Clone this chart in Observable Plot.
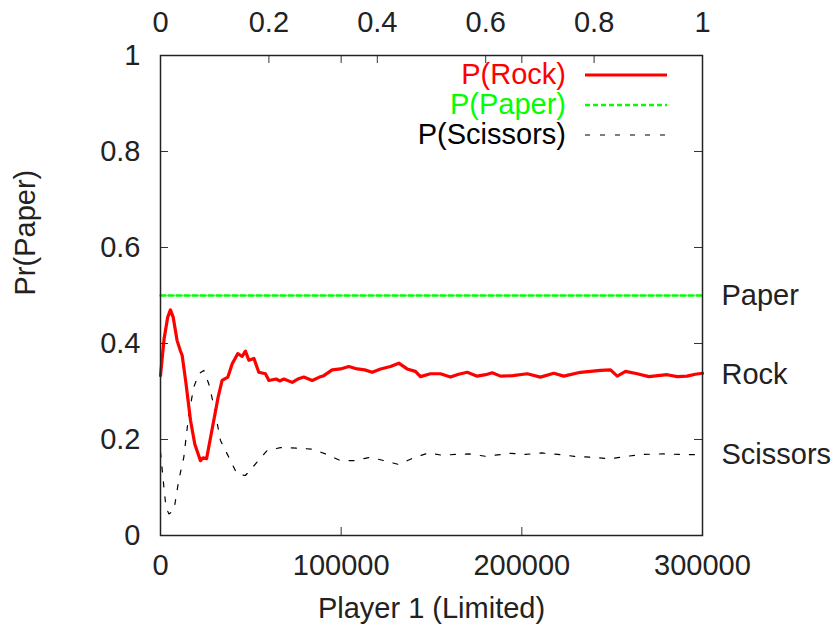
<!DOCTYPE html>
<html><head><meta charset="utf-8">
<script src="https://cdn.jsdelivr.net/npm/d3@7"></script>
<script src="https://cdn.jsdelivr.net/npm/@observablehq/plot@0.6"></script>
<style>body{margin:0;background:#fff}</style>
</head><body><div id="chart"></div>
<script>
// ---- data ----
const rockX = [0,2000,4000,5500,7000,9200,11000,12000,14000,16600,19000,22100,23500,25500,27500,29500,32000,34100,37300,39700,42800,45200,47000,48900,51700,54400,58100,60000,64000,66000,68300,72900,76000,79300,84000,88000,90400,95000,99600,104200,108900,113000,117200,121800,127300,131900,136500,141100,143900,149400,155000,160500,165000,169800,175300,180000,183600,188200,195000,203000,210300,217700,223200,232500,243500,249100,252800,257400,263900,270300,280400,286000,291500,296000,300000];
const rockY = [0.333,0.41,0.455,0.470,0.455,0.406,0.385,0.375,0.32,0.240,0.19,0.156,0.162,0.160,0.20,0.240,0.29,0.323,0.33,0.358,0.379,0.373,0.384,0.365,0.369,0.340,0.337,0.323,0.326,0.322,0.326,0.319,0.326,0.330,0.323,0.330,0.333,0.345,0.347,0.352,0.347,0.345,0.340,0.347,0.352,0.359,0.347,0.342,0.331,0.337,0.337,0.330,0.336,0.340,0.332,0.335,0.339,0.332,0.333,0.337,0.330,0.338,0.332,0.340,0.344,0.345,0.332,0.342,0.337,0.331,0.335,0.331,0.332,0.336,0.338];
const paperX = [0,300000];
const paperY = [0.5,0.5];
const scissorsX = [0,1500,3000,4600,7400,10100,12900,15700,18400,21200,24000,26700,29500,33200,37800,42400,47000,53500,59000,66400,75600,84000,91300,99600,107000,116200,123600,131900,140200,148500,156000,163000,171000,180000,193700,202000,211000,220000,229000,238000,249100,258000,268000,278000,287000,300000];
const scissorsY = [0.174,0.115,0.06,0.045,0.052,0.115,0.163,0.253,0.309,0.337,0.344,0.316,0.271,0.198,0.163,0.128,0.125,0.153,0.177,0.183,0.182,0.180,0.170,0.156,0.156,0.163,0.156,0.148,0.162,0.172,0.167,0.169,0.170,0.165,0.171,0.169,0.172,0.169,0.165,0.163,0.160,0.165,0.169,0.170,0.169,0.168];

const xTicks = [0,100000,200000,300000];
const x2Ticks = [0,0.2,0.4,0.6,0.8,1];
const yTicks = [0,0.2,0.4,0.6,0.8,1];
const sideLabels = ["Paper","Rock","Scissors"];
const sideValues = [0.5,0.335,0.169];
const legendLabels = ["P(Rock)","P(Paper)","P(Scissors)"];
const xLabel = "Player 1 (Limited)";
const yLabel = "Pr(Paper)";
const xMax = 300000;

// ---- build ----
const font = "'Liberation Sans', Arial, Helvetica, sans-serif";
const W = 837, H = 629, mL = 160, mR = 135, mT = 55, mB = 94;
const pw = W - mL - mR, ph = H - mT - mB;
const zip = (xs, ys) => xs.map((x, i) => ({x, y: ys[i]}));
const rock = zip(rockX, rockY), paper = zip(paperX, paperY), scissors = zip(scissorsX, scissorsY);
const side = sideLabels.map((l, i) => ({label: l, y: sideValues[i]}));

const styles = {
  rock: {stroke: "#ff0000", strokeWidth: 3.2, dash: null},
  paper: {stroke: "#00ff00", strokeWidth: 2.5, dash: "5,3"},
  scissors: {stroke: "#000000", strokeWidth: 1.2, dash: "5,10"}
};

const chart = Plot.plot({
  width: W, height: H,
  marginLeft: mL, marginRight: mR, marginTop: mT, marginBottom: mB,
  style: {fontFamily: font, fontSize: "29px", color: "#000", background: "#fff", overflow: "visible"},
  x: {domain: [0, xMax]},
  y: {domain: [0, 1]},
  marks: [
    Plot.line(paper, {x: "x", y: "y", stroke: styles.paper.stroke, strokeWidth: styles.paper.strokeWidth, strokeDasharray: styles.paper.dash}),
    Plot.line(scissors, {x: "x", y: "y", stroke: styles.scissors.stroke, strokeWidth: styles.scissors.strokeWidth, strokeDasharray: styles.scissors.dash}),
    Plot.line(rock, {x: "x", y: "y", stroke: styles.rock.stroke, strokeWidth: styles.rock.strokeWidth, strokeLinejoin: "round"}),
    // inward ticks
    Plot.tickY(yTicks, {y: d => d, insetRight: pw - 8, stroke: "#333", strokeWidth: 1}),
    Plot.tickY(yTicks, {y: d => d, insetLeft: pw - 8, stroke: "#333", strokeWidth: 1}),
    Plot.tickX(xTicks, {x: d => d, insetTop: ph - 8, stroke: "#333", strokeWidth: 1}),
    Plot.tickX(xTicks, {x: d => d, insetBottom: ph - 8, stroke: "#333", strokeWidth: 1}),
    Plot.tickX(x2Ticks, {x: d => d * xMax, insetBottom: ph - 8, stroke: "#333", strokeWidth: 1}),
    Plot.frame({stroke: "#222", strokeWidth: 1.5}),
    // axes labels
    Plot.axisY(yTicks, {tickSize: 0, tickPadding: 20, tickFormat: d => String(d), label: null, fontSize: 29, fill: "#222"}),
    Plot.axisX(xTicks, {tickSize: 0, tickPadding: 19, tickFormat: d => String(d), label: null, fontSize: 29, fill: "#222"}),
    Plot.text(x2Ticks, {x: d => d * xMax, text: d => String(d), frameAnchor: "top", lineAnchor: "middle", dy: -33, fontSize: 29, fill: "#222"}),
    Plot.text(side, {y: "y", text: "label", frameAnchor: "right", lineAnchor: "middle", dx: 19, textAnchor: "start", fontSize: 29, fill: "#222"}),
    Plot.text([xLabel], {text: d => d, frameAnchor: "bottom", lineAnchor: "middle", dy: 73, fontSize: 29, fill: "#222"}),
    Plot.text([yLabel], {text: d => d, frameAnchor: "left", lineAnchor: "middle", dx: -135, rotate: -90, fontSize: 29, fill: "#222"})
  ]
});
document.getElementById("chart").append(chart);

// legend inside the frame, top-right (gnuplot style)
const legendStyles = [styles.rock, styles.paper, styles.scissors];
const svg = d3.select(chart);
const lg = svg.append("g").attr("font-family", font).attr("font-size", 29);
legendLabels.forEach((label, i) => {
  const cy = 75 + i * 30;
  const s = legendStyles[i];
  lg.append("text").attr("x", 566).attr("y", cy).attr("dy", "0.32em")
    .attr("text-anchor", "end").attr("fill", s.stroke).text(label);
  const ln = lg.append("line").attr("x1", 585).attr("x2", 667).attr("y1", cy).attr("y2", cy)
    .attr("stroke", s.stroke).attr("stroke-width", s.strokeWidth);
  if (s.dash) ln.attr("stroke-dasharray", s.dash);
});
</script></body></html>
